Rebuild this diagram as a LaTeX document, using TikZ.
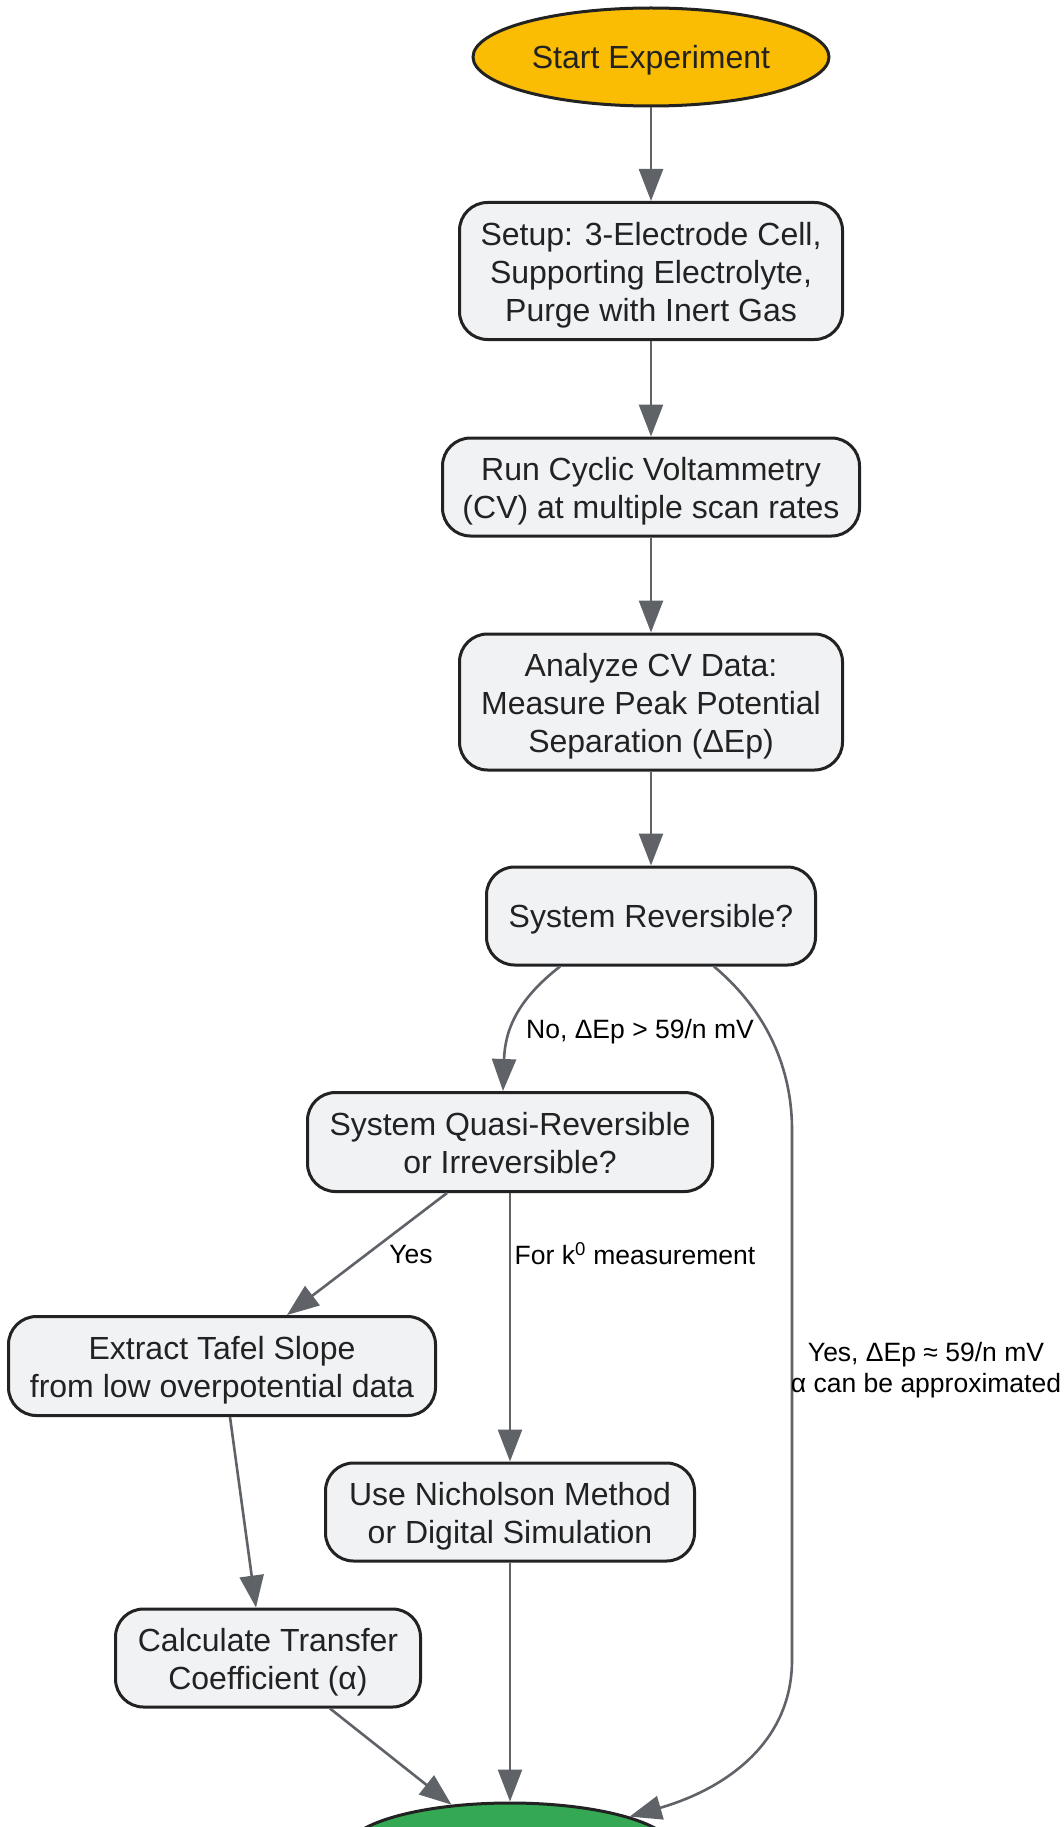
\documentclass[tikz,border=0pt]{standalone}
\usepackage{fontspec}
\setmainfont{Liberation Sans}
\usetikzlibrary{arrows.meta,shapes.geometric}
\definecolor{boxfill}{HTML}{F1F2F4}
\definecolor{boxline}{HTML}{222222}
\definecolor{txt}{HTML}{222222}
\definecolor{arrc}{HTML}{5F6368}
\definecolor{startc}{HTML}{FBBC04}
\definecolor{endc}{HTML}{34A853}
\newcommand{\linestrut}{\rule[-7.9pt]{0pt}{38pt}}
\newcommand{\mlt}{\rule[-7.9pt]{0pt}{41pt}}
\begin{document}
\begin{tikzpicture}[x=1pt,y=-1pt,
  box/.style={draw=boxline, line width=3pt, fill=boxfill, rounded corners=28pt,
    align=center, text=txt, font=\fontsize{32}{38}\selectfont, inner sep=0pt},
  term/.style={ellipse, draw=boxline, line width=3pt, align=center, text=txt,
    font=\fontsize{32}{38}\selectfont, inner sep=0pt},
  arr/.style={draw=arrc, line width=2.6pt, -{Triangle[length=32pt,width=24pt]}},
  lbl/.style={text=black, font=\fontsize{26.5}{31}\selectfont, align=center, inner sep=0pt}
]
\path[use as bounding box] (0,0) rectangle (1064,1827);
\clip (0,0) rectangle (1064,1827);
\fill[white] (0,0) rectangle (1064,1827);

\node[term, fill=startc, minimum width=356pt, minimum height=98pt] (start) at (651,57) {\linestrut Start Experiment};
\node[box, minimum width=383pt, minimum height=137pt] (setup) at (651,271) {\mlt Setup: 3-Electrode Cell,\\Supporting Electrolyte,\\Purge with Inert Gas\linestrut};
\node[box, minimum width=417pt, minimum height=98pt] (cv) at (651,487) {\mlt Run Cyclic Voltammetry\\(CV) at multiple scan rates\linestrut};
\node[box, minimum width=383pt, minimum height=136pt] (analyze) at (651,702) {\mlt Analyze CV Data:\\Measure Peak Potential\\Separation (ΔEp)\linestrut};
\node[box, minimum width=329pt, minimum height=98pt] (rev) at (651,916) {\linestrut System Reversible?};
\node[box, minimum width=405pt, minimum height=99pt] (quasi) at (510,1142) {\mlt System Quasi-Reversible\\or Irreversible?\linestrut};
\node[box, minimum width=427pt, minimum height=99pt] (tafel) at (222,1366) {\mlt Extract Tafel Slope\\from low overpotential data\linestrut};
\node[box, minimum width=369pt, minimum height=98pt] (nich) at (510,1512) {\mlt Use Nicholson Method\\or Digital Simulation\linestrut};
\node[box, minimum width=305pt, minimum height=98pt] (calc) at (268,1658) {\mlt Calculate Transfer\\Coefficient (α)\linestrut};
\node[ellipse, draw=boxline, line width=3pt, fill=endc, minimum width=330pt, minimum height=96pt] (end) at (510,1851) {};

\draw[arr] (start) -- (setup);
\draw[arr] (setup) -- (cv);
\draw[arr] (cv) -- (analyze);
\draw[arr] (analyze) -- (rev);
\draw[arr] ([xshift=-91pt]rev.south) .. controls (517,1000) and (505,1030) .. ([xshift=-7pt]quasi.north);
\draw[arr] ([xshift=63pt]rev.south) .. controls (760,1005) and (792,1060) .. (792,1130) -- (792,1660) .. controls (792,1745) and (722,1790) .. (end);
\draw[arr] ([xshift=-63pt]quasi.south) -- ([xshift=65pt]tafel.north);
\draw[arr] (quasi) -- (nich);
\draw[arr] ([xshift=8pt]tafel.south) -- ([xshift=-12pt]calc.north);
\draw[arr] ([xshift=62pt]calc.south) -- (end);
\draw[arr] (nich) -- (end);

\node[lbl] (l1) at (640,1032) {No, ΔEp > 59/n mV};
\node[lbl] (l2) at (411,1254) {Yes};
\node[lbl] (l3) at (635,1254) {For k\textsuperscript{0} measurement};
\node[lbl] (l4) at (926,1370) {Yes, ΔEp ≈ 59/n mV\\α can be approximated};
\end{tikzpicture}
\end{document}
